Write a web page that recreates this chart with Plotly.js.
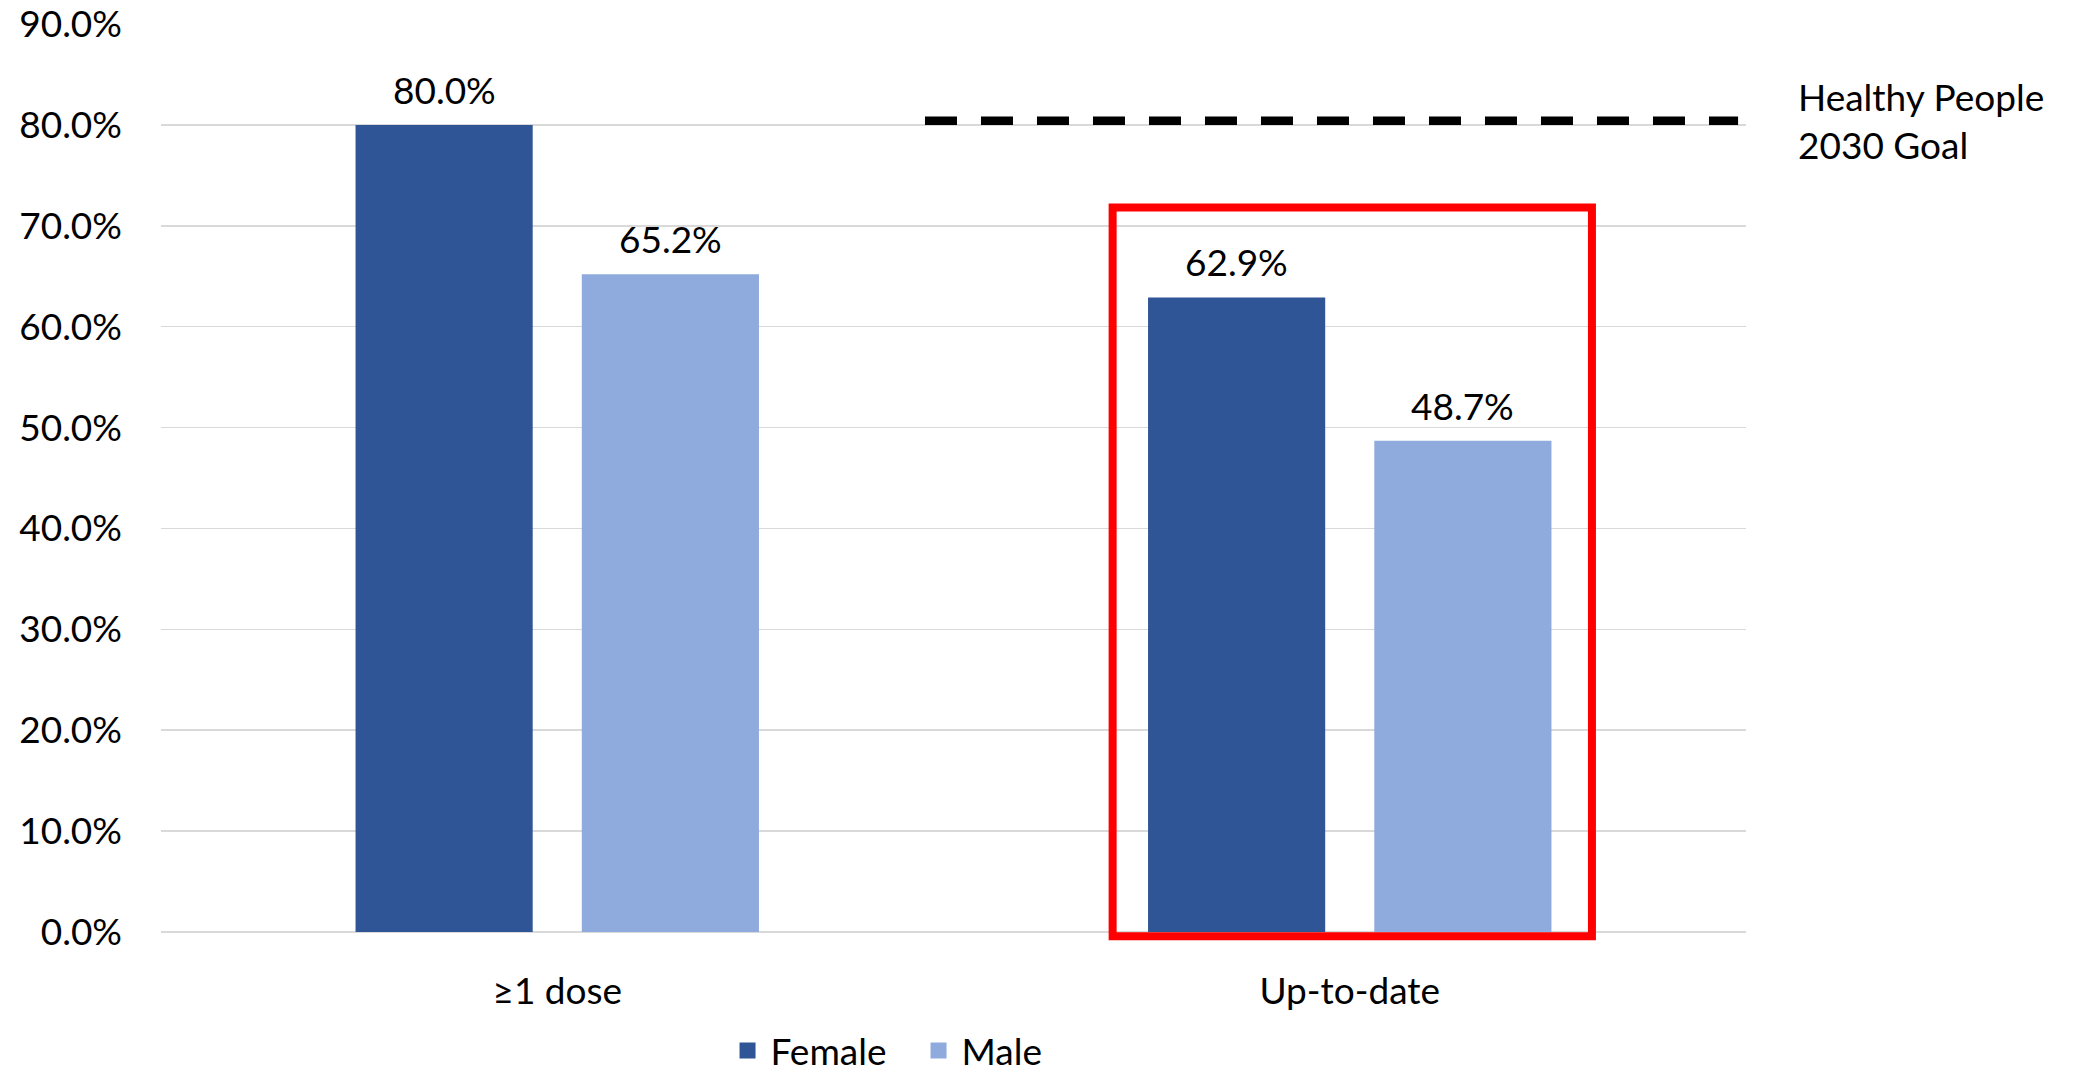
<!DOCTYPE html>
<html>
<head>
<meta charset="utf-8">
<script src="https://cdn.plot.ly/plotly-3.0.1.min.js"></script>
<style>html,body{margin:0;padding:0;background:#fff;}#chart{width:2088px;height:1080px;}</style>
</head>
<body>
<div id="chart"></div>
<script>
const categories = ['≥1 dose', 'Up-to-date'];
const seriesNames = ['Female', 'Male'];
const femaleValues = [80.0, 62.9];
const maleValues = [65.2, 48.7];
const goalValue = 80.4;
const goalLabel = 'Healthy People<br>2030 Goal';
const yTicks = [0, 10, 20, 30, 40, 50, 60, 70, 80, 90];

const colors = ['#2F5597', '#8FAADC'];
const FONT = 'Lato, "Open Sans", sans-serif';
const FS = 37;

const seriesValues = [femaleValues, maleValues];
const traces = seriesValues.map((vals, i) => ({
  type: 'bar',
  name: seriesNames[i],
  x: categories,
  y: vals,
  marker: {color: colors[i], line: {width: 0}},
  showlegend: false,
  hoverinfo: 'x+y'
}));
// legend entries (larger square swatches than the bar legend symbol allows)
seriesNames.forEach((n, i) => {
  traces.push({
    type: 'scatter', mode: 'markers', name: n,
    x: [null], y: [null],
    marker: {symbol: 'square', size: 16, color: colors[i], line: {width: 0}},
    showlegend: true, hoverinfo: 'skip'
  });
});

const annotations = [];
seriesValues.forEach((vals, i) => {
  vals.forEach((v, j) => {
    annotations.push({
      x: categories[j], y: v, xref: 'x', yref: 'y',
      text: v.toFixed(1) + '%',
      showarrow: false,
      xanchor: 'center', yanchor: 'bottom',
      xshift: i === 0 ? -113 : 113,
      yshift: 11,
      font: {family: FONT, size: FS, color: '#000'}
    });
  });
});
annotations.push({
  x: 1.0315, xref: 'paper', y: goalValue, yref: 'y',
  text: goalLabel, showarrow: false,
  xanchor: 'left', yanchor: 'middle', align: 'left',
  font: {family: FONT, size: FS, color: '#000'}
});

const layout = {
  width: 2088, height: 1080,
  margin: {l: 161, r: 342, t: 24, b: 148, pad: 0, autoexpand: false},
  paper_bgcolor: '#fff', plot_bgcolor: '#fff',
  font: {family: FONT, size: FS, color: '#000'},
  barmode: 'group',
  bargap: 0.429,
  bargroupgap: 0.217,
  showlegend: true,
  legend: {
    orientation: 'h', xref: 'container', yref: 'container',
    x: 0.3470, xanchor: 'left', y: 0.027, yanchor: 'middle',
    itemwidth: 36,
    entrywidth: 140, entrywidthmode: 'pixels',
    font: {family: FONT, size: FS, color: '#000'}, itemclick: false
  },
  xaxis: {
    type: 'category', categoryorder: 'array', categoryarray: categories,
    range: [-0.5, 1.5], automargin: false,
    showgrid: false, showline: false, zeroline: false, ticks: '',
    ticklabelstandoff: 34,
    tickfont: {family: FONT, size: FS, color: '#000'}
  },
  yaxis: {
    range: [0, 90], tickvals: yTicks, ticktext: yTicks.map(t => t.toFixed(1) + '%'),
    automargin: false, ticklabeloverflow: 'allow',
    showgrid: true, gridcolor: '#D9D9D9', gridwidth: 1.5,
    zeroline: true, zerolinecolor: '#D9D9D9', zerolinewidth: 2,
    showline: false, ticks: '', ticklabelstandoff: 38,
    tickfont: {family: FONT, size: FS, color: '#000'}
  },
  shapes: [
    {type: 'line', xref: 'x', yref: 'y', x0: 0.464, x1: 1.49, y0: goalValue, y1: goalValue,
     line: {color: '#000', width: 8.5, dash: '32px,24px'}, layer: 'above'},
    {type: 'rect', xref: 'x', yref: 'paper', x0: 0.7008, x1: 1.3056, y0: -0.0048, y1: 0.798,
     line: {color: '#FF0000', width: 8}, fillcolor: 'rgba(0,0,0,0)', layer: 'above'}
  ],
  annotations: annotations
};

Plotly.newPlot('chart', traces, layout, {displayModeBar: false, staticPlot: true});
</script>
</body>
</html>
